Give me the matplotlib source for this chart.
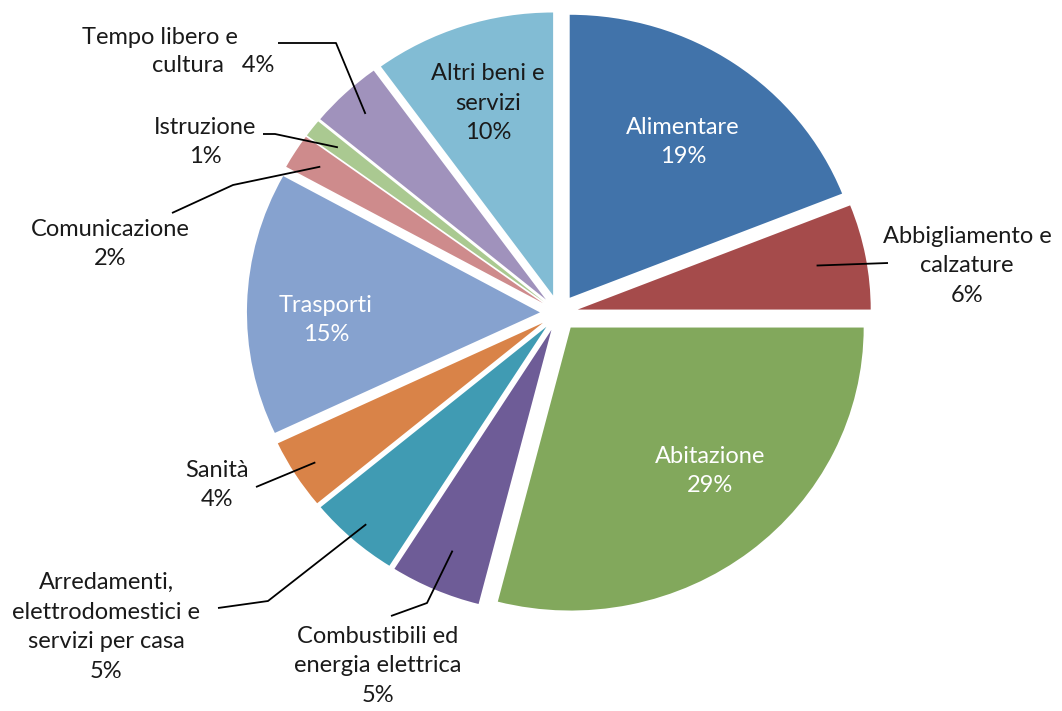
import matplotlib
matplotlib.use('Agg')

import numpy as np
import matplotlib.pyplot as plt

plt.rc('font', family='Lato', size=17)

# spending shares
categories = ['Alimentare', 'Abbigliamento e\ncalzature', 'Abitazione',
              'Combustibili ed\nenergia elettrica',
              'Arredamenti,\nelettrodomestici e\nservizi per casa',
              'Sanità', 'Trasporti', 'Comunicazione', 'Istruzione',
              'Tempo libero e\ncultura', 'Altri beni e\nservizi']
values = [19, 6, 29, 5, 5, 4, 15, 2, 1, 4, 10]
colors = ['#4173AA', '#A54B4B', '#82A85C', '#6E5C97', '#409BB3', '#D98348',
          '#86A2CF', '#CE8B8C', '#AAC991', '#A092BC', '#82BCD4']

# layout (pixels of the 1062x711 image)
W, H = 1062, 711
SX, SY = 293.0, 283.0          # pixels per radius unit (pie is a bit wide)
CX, CY = 559, 313
inside = [True, False, True, False, False, False, True, False, False, False, True]
text_white = [True, False, True, False, False, False, True, False, False, False, False]
label_pos = [(683, 142), (967, 266), (710, 471), (378, 666), (106, 627),
             (217, 485), (326, 320), (110, 244), (205, 142), (0, 0), (488, 103)]
# leader lines: radius of anchor inside the wedge, then elbow/end points
anchor_r = [0, 0.83, 0, 0.85, 0.93, 0.92, 0, 0.90, 0.89, 0.90, 0]
leader_pts = [None, [(888, 263)], None, [(427, 603), (391, 616)],
              [(268, 601), (218, 608)], [(256, 487)], None,
              [(233, 185), (172, 213)], [(275, 134), (263, 134)],
              [(336, 43), (278, 43)], None]


def px(x, y):
    return x / SX, (H - y) / SY


fig = plt.figure(figsize=(W / 100, H / 100), dpi=100)
ax = fig.add_axes([0, 0, 1, 1])
wedges, _ = ax.pie(values, colors=colors, startangle=90, counterclock=False,
                   explode=[0.065] * len(values), center=px(CX, CY), radius=1,
                   wedgeprops=dict(linewidth=0))
ax.set_aspect('auto')
ax.set_xlim(0, W / SX)
ax.set_ylim(0, H / SY)
ax.axis('off')

dark = '#1a1a1a'
for i, w in enumerate(wedges):
    pct = '%d%%' % values[i]
    col = 'white' if text_white[i] else dark
    if categories[i].startswith('Tempo'):
        ax.text(*px(160, 38), 'Tempo libero e', ha='center', va='center', color=dark)
        ax.text(*px(213, 65), 'cultura   ' + pct, ha='center', va='center', color=dark)
    else:
        ax.text(*px(*label_pos[i]), categories[i] + '\n' + pct, ha='center',
                va='center', multialignment='center', color=col, linespacing=1.5)
    if leader_pts[i] is not None:
        mid = np.deg2rad((w.theta1 + w.theta2) / 2)
        x0 = w.center[0] + anchor_r[i] * np.cos(mid)
        y0 = w.center[1] + anchor_r[i] * np.sin(mid)
        pts = [(x0, y0)] + [px(*p) for p in leader_pts[i]]
        xs, ys = zip(*pts)
        ax.plot(xs, ys, color='black', lw=1.3, solid_capstyle='butt')

plt.savefig('out.png', dpi=100, facecolor='white')
